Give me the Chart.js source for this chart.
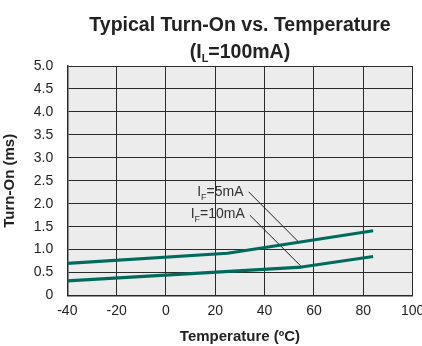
<!DOCTYPE html>
<html><head><meta charset="utf-8">
<script src="https://cdn.jsdelivr.net/npm/chart.js@4.4.1/dist/chart.umd.min.js"></script>
<style>html,body{margin:0;padding:0;background:#fff;overflow:hidden}#wrap{width:422px;height:346px;position:relative}</style>
</head><body><div id="wrap"><canvas id="c" width="422" height="346"></canvas></div>
<script>
// Data
const tempIF5 = [-40, 25, 84];
const turnOnIF5 = [0.70, 0.92, 1.41];
const tempIF10 = [-40, 55, 84];
const turnOnIF10 = [0.32, 0.62, 0.85];
// Leader lines for annotation labels (data coordinates)
const leaderIF5 = [[33.5, 2.26], [53.7, 1.17]];
const leaderIF10 = [[34, 1.75], [54.7, 0.64]];
const labelIF5 = ['I', 'F', '=5mA'];
const labelIF10 = ['I', 'F', '=10mA'];
const xTicks = [-40, -20, 0, 20, 40, 60, 80, 100];
const yTickLabels = ['0', '0.5', '1.0', '1.5', '2.0', '2.5', '3.0', '3.5', '4.0', '4.5', '5.0'];
const titleLine1 = 'Typical Turn-On vs. Temperature';
const titleLine2 = ['(I', 'L', '=100mA)'];

const TEAL = '#006b5c';
const GRID = '#2a2a2a';

function pts(xs, ys) { return xs.map((x, i) => ({x: x, y: ys[i]})); }

function drawSub(ctx, parts, x, y, bigFont, smallFont, align) {
  ctx.font = bigFont; const w0 = ctx.measureText(parts[0]).width;
  ctx.font = smallFont; const w1 = ctx.measureText(parts[1]).width;
  ctx.font = bigFont; const w2 = ctx.measureText(parts[2]).width;
  const total = w0 + w1 + w2;
  let sx = align === 'right' ? x - total : (align === 'center' ? x - total / 2 : x);
  ctx.textAlign = 'left'; ctx.textBaseline = 'alphabetic';
  ctx.font = bigFont; ctx.fillText(parts[0], sx, y);
  ctx.font = smallFont; ctx.fillText(parts[1], sx + w0, y + 4);
  ctx.font = bigFont; ctx.fillText(parts[2], sx + w0 + w1, y);
}

const decor = {
  id: 'decor',
  beforeDraw(chart) {
    const {ctx, chartArea: a} = chart;
    ctx.save();
    ctx.fillStyle = '#ececec';
    ctx.fillRect(a.left, a.top, a.right - a.left, a.bottom - a.top);
    ctx.restore();
  },
  afterDraw(chart) {
    const {ctx, scales: {x, y}} = chart;
    ctx.save();
    ctx.fillStyle = '#222';
    ctx.font = 'bold 19.5px "Liberation Sans", Arial, sans-serif';
    ctx.textAlign = 'center'; ctx.textBaseline = 'alphabetic';
    const cx = (chart.chartArea.left + chart.chartArea.right) / 2;
    ctx.fillText(titleLine1, cx, 30.5);
    drawSub(ctx, titleLine2, cx, 58, 'bold 19.5px "Liberation Sans", Arial, sans-serif', 'bold 11px "Liberation Sans", Arial, sans-serif', 'center');
    ctx.fillStyle = '#333';
    const big = '14px "Liberation Sans Narrow", "Arial Narrow", "Liberation Sans", sans-serif';
    const small = '9px "Liberation Sans Narrow", "Arial Narrow", "Liberation Sans", sans-serif';
    drawSub(ctx, labelIF5, x.getPixelForValue(leaderIF5[0][0]) - 5, y.getPixelForValue(leaderIF5[0][1]) + 4, big, small, 'right');
    drawSub(ctx, labelIF10, x.getPixelForValue(leaderIF10[0][0]) - 5, y.getPixelForValue(leaderIF10[0][1]) + 3, big, small, 'right');
    ctx.restore();
  }
};

new Chart(document.getElementById('c'), {
  type: 'line',
  data: {
    datasets: [
      {data: pts(tempIF5, turnOnIF5), borderColor: TEAL, borderWidth: 3.2, pointRadius: 0, tension: 0, borderJoinStyle: 'round'},
      {data: pts(tempIF10, turnOnIF10), borderColor: TEAL, borderWidth: 3.2, pointRadius: 0, tension: 0, borderJoinStyle: 'round'},
      {data: leaderIF5.map(p => ({x: p[0], y: p[1]})), borderColor: '#222', borderWidth: 1, pointRadius: 0},
      {data: leaderIF10.map(p => ({x: p[0], y: p[1]})), borderColor: '#222', borderWidth: 1, pointRadius: 0}
    ]
  },
  options: {
    responsive: false,
    animation: false,
    layout: {padding: {top: 66, right: 9.4, left: 0, bottom: 0}},
    plugins: {legend: {display: false}, tooltip: {enabled: false}, title: {display: false}},
    scales: {
      x: {
        type: 'linear', min: -40, max: 100,
        afterBuildTicks: s => { s.ticks = xTicks.map(v => ({value: v})); },
        afterFit: s => { s.height = 50.5; s.paddingLeft = 0; s.paddingRight = 0; },
        grid: {color: GRID, lineWidth: 1, drawTicks: false},
        border: {color: GRID, width: 1.5},
        ticks: {color: '#222', padding: 7, maxRotation: 0, autoSkip: false, font: {size: 14, family: '"Liberation Sans", Arial, sans-serif'}},
        title: {display: true, text: 'Temperature (ºC)', color: '#222', padding: {top: 0, bottom: 0}, font: {size: 15, weight: 'bold', family: '"Liberation Sans", Arial, sans-serif'}}
      },
      y: {
        type: 'linear', min: 0, max: 5,
        afterBuildTicks: s => { s.ticks = yTickLabels.map((t, i) => ({value: i * 0.5})); },
        afterFit: s => { s.width = 67.3; s.paddingTop = 0; s.paddingBottom = 0; },
        grid: {color: GRID, lineWidth: 1, drawTicks: false},
        border: {color: GRID, width: 1.5},
        ticks: {color: '#222', padding: 14, autoSkip: false, font: {size: 14, family: '"Liberation Sans", Arial, sans-serif'},
          callback: (v, i) => yTickLabels[i]},
        title: {display: true, text: 'Turn-On (ms)', color: '#222', padding: {top: 1, bottom: 0}, font: {size: 15, weight: 'bold', family: '"Liberation Sans", Arial, sans-serif'}}
      }
    }
  },
  plugins: [decor]
});
</script></body></html>
